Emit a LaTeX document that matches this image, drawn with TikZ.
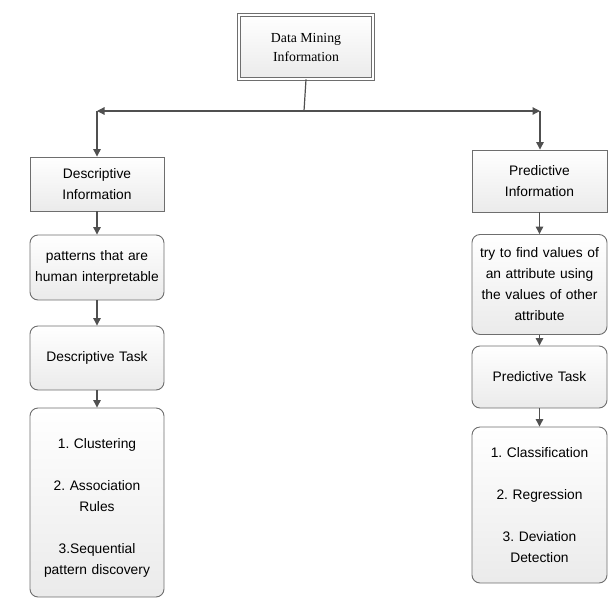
\documentclass[tikz,border=0pt]{standalone}
\usepackage{fontspec}
\setmainfont{Liberation Sans}
\newfontfamily\serifx{Liberation Serif}
\usetikzlibrary{arrows.meta}
\frenchspacing
\definecolor{linec}{HTML}{505050}
\definecolor{boxc}{HTML}{6E6E6E}
\tikzset{
  boxbase/.style={draw=boxc, line width=0.9pt, top color=white, bottom color=gray!16,
    inner sep=0pt, align=center, text=black,
    font=\fontsize{13.8}{21}\selectfont},
  sqbox/.style={boxbase},
  rbox/.style={boxbase, rounded corners=8pt},
  arr/.style={draw=linec, line width=1.2pt, -{Triangle[length=7.5pt,width=7.5pt]}},
  plain/.style={draw=linec, line width=1.2pt}
}
\begin{document}
\begin{tikzpicture}[x=1pt,y=-1pt]
\useasboundingbox (0,0) rectangle (616,600);
% top
\node[draw=boxc, line width=0.9pt, double=white, double distance=2.6pt,
  top color=white, bottom color=gray!16, inner sep=0pt, align=center,
  minimum width=134pt, minimum height=64pt,
  font=\serifx\fontsize{13.8}{19}\selectfont] (top) at (306,47) {Data Mining\\Information};
\coordinate (hub) at (304,111);
\coordinate (cl) at (97,111);
\coordinate (cr) at (540,111);
% left column
\node[sqbox, minimum width=134pt, minimum height=54pt, text width=134pt] (dinfo) at (97,184) {Descriptive\\Information};
\node[rbox, minimum width=134pt, minimum height=65pt, text width=134pt] (dpat) at (97,267.5) {patterns that are\\human interpretable};
\node[rbox, minimum width=134pt, minimum height=64pt, text width=134pt] (dtask) at (97,358) {Descriptive Task};
\node[rbox, minimum width=134pt, minimum height=189pt, text width=134pt] (dlist) at (97,502.5) {\rule{0pt}{20pt}1. Clustering\\[21pt]2. Association\\Rules\\[21pt]3.Sequential\\pattern discovery};
% right column
\node[sqbox, minimum width=135pt, minimum height=62pt, text width=135pt] (pinfo) at (539.5,181) {Predictive\\Information};
\node[rbox, minimum width=135pt, minimum height=100pt, text width=135pt] (ptry) at (539.5,284.5) {try to find values of\\an attribute using\\the values of other\\attribute};
\node[rbox, minimum width=135pt, minimum height=62pt, text width=135pt] (ptask) at (539.5,377) {Predictive Task};
\node[rbox, minimum width=135pt, minimum height=156pt, text width=135pt] (plist) at (539.5,505) {1. Classification\\[21pt]2. Regression\\[21pt]3. Deviation\\Detection};
% connectors
\draw[plain] (top.south) -- (hub);
\draw[arr] (hub) -- (cl);
\draw[arr] (hub) -- (cr);
\draw[arr] (cl) -- (dinfo.north);
\draw[arr] (cr) -- (pinfo.north -| cr);
\draw[arr] (dinfo) -- (dpat);
\draw[arr] (dpat) -- (dtask);
\draw[arr] (dtask) -- (dlist);
\draw[arr] (pinfo) -- (ptry);
\draw[arr] (ptry) -- (ptask);
\draw[arr] (ptask) -- (plist);
\end{tikzpicture}
\end{document}
